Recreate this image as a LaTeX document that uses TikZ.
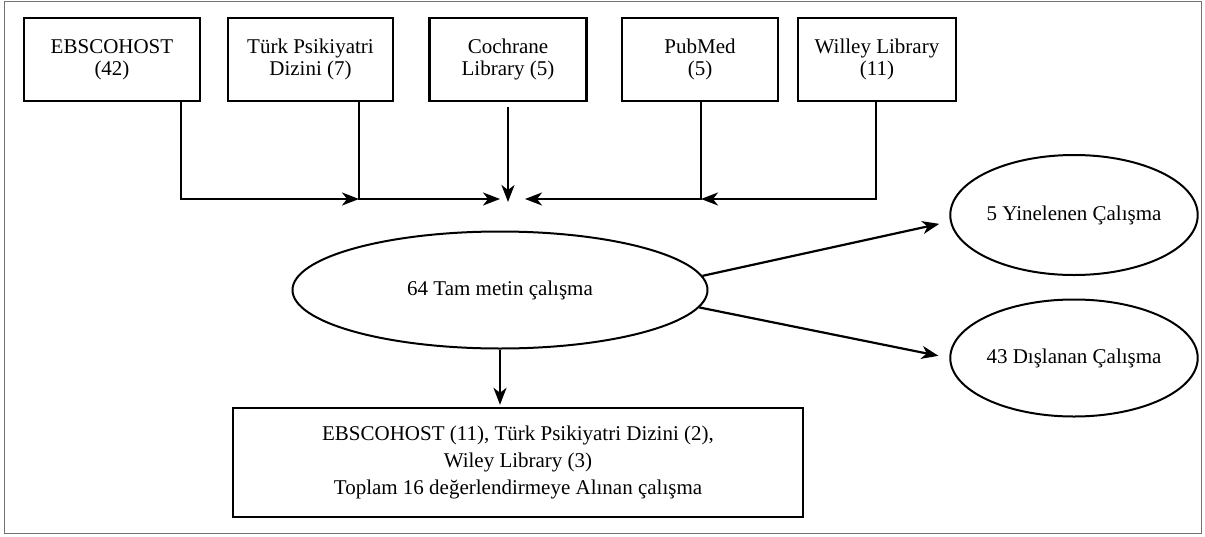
\documentclass[tikz,border=0pt]{standalone}
\usepackage{fontspec}
\setmainfont{Liberation Serif}
\usetikzlibrary{arrows.meta,shapes.geometric}
\begin{document}
\begin{tikzpicture}[x=1pt,y=-1pt,
  src/.style={draw, line width=2.4pt, rectangle, minimum height=83pt, inner sep=0pt, align=center, font=\fontsize{21}{22}\selectfont},
  oval/.style={draw, ellipse, line width=2pt, inner sep=0pt, font=\fontsize{21}{22}\selectfont},
  arr/.style={line width=2.2pt, -{Stealth[length=17pt,width=13pt,inset=5pt]}}]
\useasboundingbox (0,0) rectangle (1205,536);
\draw[black!55, line width=1pt] (4,1) rectangle (1201,533);

\node[src, minimum width=176pt] (ebsco) at (112,59.5) {EBSCOHOST\\(42)};
\node[src, minimum width=165pt] (turk) at (310.5,59.5) {Türk Psikiyatri\\Dizini (7)};
\node[src, minimum width=157pt] (coch) at (508,59.5) {Cochrane\\Library (5)};
\node[src, minimum width=156pt] (pub) at (700,59.5) {PubMed\\(5)};
\node[src, minimum width=158pt] (wil) at (877,59.5) {Willey Library\\(11)};

\node[oval, minimum width=415pt, minimum height=117pt] (full) at (500,290) {64 Tam metin çalışma};
\node[oval, minimum width=242pt, minimum height=120pt] (dup) at (1074,215) {5 Yinelenen Çalışma};
\node[oval, minimum width=242pt, minimum height=117pt] (excl) at (1074,358) {43 Dışlanan Çalışma};
\node[src, minimum width=570pt, minimum height=109pt, font=\fontsize{21}{27}\selectfont] (incl) at (518,462.5)
  {EBSCOHOST (11), Türk Psikiyatri Dizini (2),\\Wiley Library (3)\\Toplam 16 değerlendirmeye Alınan çalışma};

\coordinate (jA) at (181,199);
\coordinate (jB) at (359,199);
\coordinate (mL) at (500,199);
\coordinate (jC) at (508,202);
\coordinate (mR) at (525,199);
\coordinate (jD) at (701,199);
\coordinate (jE) at (876,199);

\draw[arr] (ebsco.south -| jA) -- (jA) -- (jB);
\draw[arr] (turk.south -| jB) -- (jB) -- (mL);
\draw[arr] ([yshift=-5pt]coch.south) -- (jC);
\draw[arr] (pub.south -| jD) -- (jD) -- (mR);
\draw[arr] (wil.south -| jE) -- (jE) -- (jD);

\draw[arr, shorten >=11pt] (full.4) -- (dup.183);
\draw[arr, shorten >=11pt] (full.-5) -- (excl.west);
\draw[arr, shorten >=2pt] (full.south) -- (full.south |- incl.north);
\end{tikzpicture}
\end{document}
